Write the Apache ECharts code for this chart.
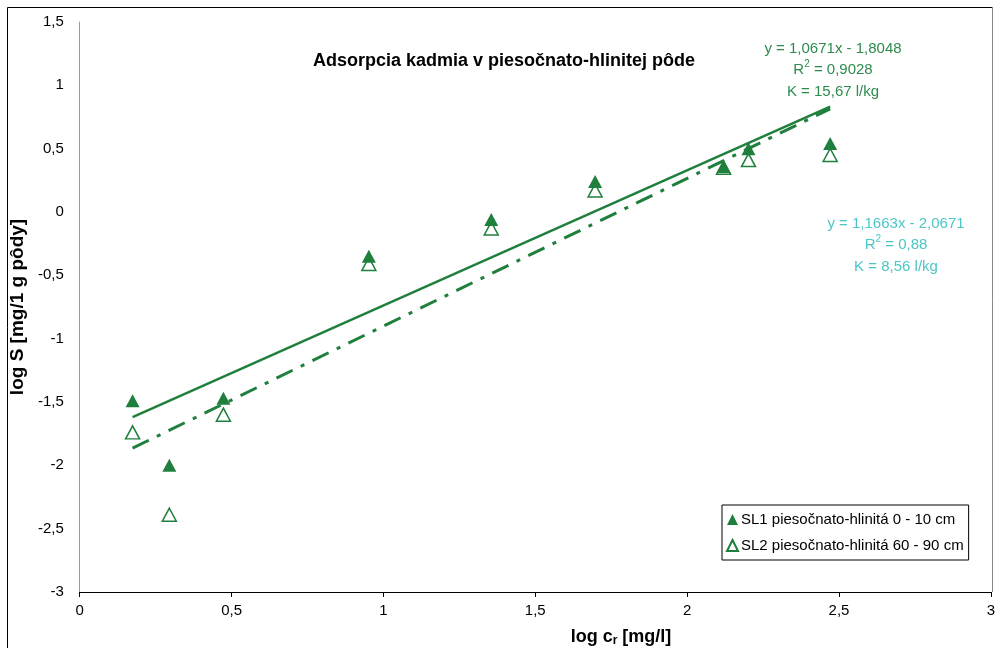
<!DOCTYPE html>
<html lang="sk">
<head>
    <meta charset="UTF-8">
    <title>Adsorpcia kadmia</title>
    <script src="https://cdn.jsdelivr.net/npm/echarts@6/dist/echarts.min.js"></script>
</head>
<body style="margin:0;">
<div id="chart" style="width:998px;height:648px;"></div>
<script type="text/javascript">
    // log c_r hodnoty (spolocne pre obe vzorky)
    var logC = [0.174, 0.295, 0.473, 0.952, 1.355, 1.697, 2.12, 2.202, 2.471];
    // log S
    var sl1 = [-1.49, -2.0, -1.47, -0.35, -0.06, 0.24, 0.36, 0.50, 0.54];
    var sl2 = [-1.74, -2.39, -1.60, -0.41, -0.13, 0.17, 0.35, 0.41, 0.45];
    // trendline koeficienty [smernica, posun]
    var fit1 = [1.0671, -1.8048];
    var fit2 = [1.1663, -2.0671];
    var eq1 = ['y = 1,0671x - 1,8048', 'R{sup|2} = 0,9028', 'K = 15,67 l/kg'];
    var eq2 = ['y = 1,1663x - 2,0671', 'R{sup|2} = 0,88', 'K = 8,56 l/kg'];
    var xTicks = ['0', '0,5', '1', '1,5', '2', '2,5', '3'];

    var green = '#1f7f3c';
    var eqGreen = '#2e8b4e';
    var cyan = '#4cc6c6';
    var fnt = 'Liberation Sans, Arial, sans-serif';

    function pairs(ys) {
        var res = [];
        for (var i = 0; i < logC.length; i++) res.push([logC[i], ys[i]]);
        return res;
    }
    function trend(f) {
        var x0 = logC[0], x1 = logC[logC.length - 1];
        return [[x0, f[0] * x0 + f[1]], [x1, f[0] * x1 + f[1]]];
    }
    function fmt(v) { return String(v).replace('.', ','); }
    function eqText(lines, x, y, color) {
        return {
            type: 'text', x: x, y: y, silent: true,
            style: {
                text: lines.join('\n'), align: 'center', verticalAlign: 'top',
                fill: color, fontSize: 15, lineHeight: 21.5, fontFamily: fnt,
                rich: {sup: {fontSize: 10, fill: color, verticalAlign: 'top', padding: [0, 0, 7, 0], fontFamily: fnt}}
            }
        };
    }

    var chart = echarts.init(document.getElementById('chart'));
    var option = {
        backgroundColor: '#fff',
        animation: false,
        textStyle: {fontFamily: fnt},
        grid: {left: 78, right: 6, top: 22, bottom: 56},
        title: {
            text: 'Adsorpcia kadmia v piesočnato-hlinitej pôde',
            left: 499, top: 47, textAlign: 'center',
            textStyle: {fontSize: 18, fontWeight: 'bold', color: '#000', fontFamily: fnt}
        },
        legend: {
            orient: 'vertical',
            left: 722, top: 505,
            borderColor: '#000', borderWidth: 1,
            padding: [7, 5, 7, 4],
            itemGap: 11,
            itemWidth: 11, itemHeight: 11,
            textStyle: {fontSize: 15, color: '#000', fontFamily: fnt, padding: [0, 0, 0, -2]},
            data: [
                {name: 'SL1 piesočnato-hlinitá 0 - 10 cm', icon: 'triangle'},
                {name: 'SL2 piesočnato-hlinitá 60 - 90 cm', icon: 'triangle'}
            ]
        },
        xAxis: {
            type: 'value', min: 0, max: 3, interval: 0.5,
            axisLine: {onZero: false, lineStyle: {color: '#000', width: 1}},
            axisTick: {inside: false, length: 5, lineStyle: {color: '#000'}},
            axisLabel: {
                fontSize: 15, color: '#000', margin: 11,
                formatter: function (v) { return xTicks[Math.round(v * 2)]; }
            },
            splitLine: {show: false}
        },
        yAxis: {
            type: 'value', min: -3, max: 1.5, interval: 0.5,
            name: 'log S [mg/1 g pôdy]',
            nameLocation: 'middle', nameGap: 45,
            nameTextStyle: {fontSize: 19, fontWeight: 'bold', color: '#000', fontFamily: fnt},
            axisLine: {show: true, onZero: false, lineStyle: {color: '#999', width: 1}},
            axisTick: {show: false},
            axisLabel: {fontSize: 15, color: '#000', margin: 16, formatter: fmt},
            splitLine: {show: false}
        },
        graphic: [
            {
                type: 'polyline', silent: true, z: -1,
                shape: {points: [[7.5, 648], [7.5, 7.5], [992.5, 7.5]]},
                style: {fill: 'none', stroke: '#000', lineWidth: 1}
            },
            {
                type: 'line', silent: true, z: -1,
                shape: {x1: 992.5, y1: 7.5, x2: 992.5, y2: 592},
                style: {stroke: '#888', lineWidth: 1}
            },
            {
                type: 'text', x: 621, y: 627, silent: true,
                style: {
                    text: '{b|log c}{sub|r}{b| [mg/l]}', align: 'center', verticalAlign: 'top',
                    rich: {
                        b: {fontSize: 18, fontWeight: 'bold', fill: '#000', fontFamily: fnt},
                        sub: {fontSize: 12, fontWeight: 'bold', fill: '#000', fontFamily: fnt, padding: [8, 0, 0, 0]}
                    }
                }
            },
            eqText(eq1, 833, 38, eqGreen),
            eqText(eq2, 896, 213, cyan)
        ],
        series: [
            {
                name: 'SL1 trend', type: 'line', data: trend(fit1),
                symbol: 'none', lineStyle: {color: green, width: 2.5}, z: 2
            },
            {
                name: 'SL2 trend', type: 'line', data: trend(fit2),
                symbol: 'none', lineStyle: {color: green, width: 3, type: [18, 9, 4, 9]}, z: 2
            },
            {
                name: 'SL1 piesočnato-hlinitá 0 - 10 cm', type: 'scatter', data: pairs(sl1),
                symbol: 'triangle', symbolSize: [14, 13],
                itemStyle: {color: green, opacity: 1}, z: 4
            },
            {
                name: 'SL2 piesočnato-hlinitá 60 - 90 cm', type: 'scatter', data: pairs(sl2),
                symbol: 'triangle', symbolSize: [14, 13],
                itemStyle: {color: '#fff', borderColor: green, borderWidth: 1.5, opacity: 1}, z: 3
            }
        ]
    };
    chart.setOption(option);
</script>
</body>
</html>
